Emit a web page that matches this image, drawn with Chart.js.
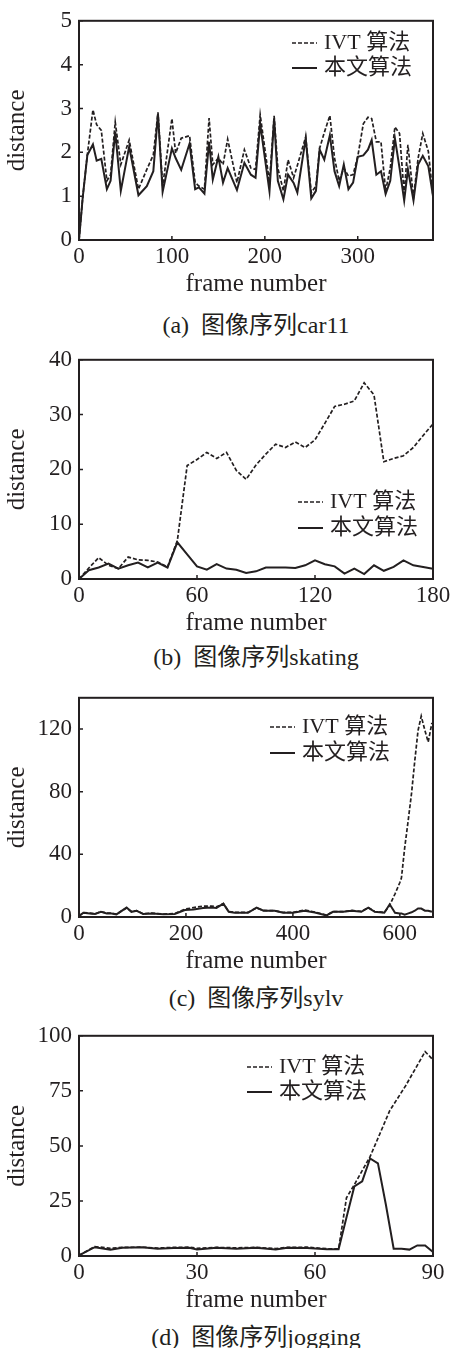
<!DOCTYPE html>
<html>
<head>
<meta charset="utf-8">
<script src="https://cdn.jsdelivr.net/npm/chart.js@4.4.0/dist/chart.umd.min.js"></script>
<style>
  body { margin: 0; background: #fff; width: 454px; height: 1348px; position: relative; overflow: hidden; }
  canvas { position: absolute; left: 0; }
  .cap { position: absolute; left: 0; width: 512px; text-align: center; color: #231f20;
         font: 24px "Liberation Serif", "Noto Sans CJK SC", serif; line-height: 28px; white-space: pre; }
</style>
</head>
<body>
<canvas id="ca" width="454" height="299" style="top:0px"></canvas>
<canvas id="cb" width="454" height="299" style="top:339px"></canvas>
<canvas id="cc" width="454" height="299" style="top:677px"></canvas>
<canvas id="cd" width="454" height="300" style="top:1015px"></canvas>
<div class="cap" style="top:311px">(a)&#8194;图像序列car11</div>
<div class="cap" style="top:643px">(b)&#8194;图像序列skating</div>
<div class="cap" style="top:984px">(c)&#8194;图像序列sylv</div>
<div class="cap" style="top:1323px">(d)&#8194;图像序列jogging</div>
<script>
// (a) car11
const aFrames = [0,4,9,15,19,24,30,34,39,45,54,64,73,80,85,90,100,104,110,119,125,129,135,140,144,150,155,160,170,178,
  185,190,195,205,210,214,220,225,231,235,244,250,255,259,264,270,275,280,285,290,295,300,306,311,315,320,325,330,335,340,
  345,350,354,360,365,370,376,381];
const aIvt = [0,0.97,1.95,2.97,2.63,2.5,1.35,1.49,2.69,1.72,2.28,1.16,1.61,1.94,2.91,1.23,2.77,1.98,2.32,2.38,
  1.31,1.23,1.16,2.78,1.72,1.87,1.72,2.3,1.31,2.06,1.64,1.61,2.86,1.31,2.83,1.64,1.12,1.83,1.42,1.7,
  2.35,1.08,1.23,2.09,2.45,2.84,1.87,1.35,1.64,1.46,1.49,1.9,2.65,2.8,2.77,2.24,2.24,1.12,1.64,2.58,
  2.43,1.05,2.17,0.97,1.87,2.43,2.02,1.0];
const aOurs = [0,0.97,1.94,2.18,1.81,1.85,1.16,1.35,2.47,1.12,2.13,1.02,1.23,1.57,2.88,1.1,2.09,1.87,1.6,2.2,
  1.16,1.2,1.06,2.24,1.38,1.9,1.31,1.64,1.14,1.76,1.49,1.42,2.65,1.11,2.77,1.35,0.93,1.49,1.3,1.08,
  2.32,0.95,1.12,2.06,1.83,2.39,1.57,1.23,1.72,1.16,1.31,1.9,1.93,2.06,2.28,1.49,1.57,1.05,1.35,2.32,
  1.64,0.9,1.61,0.9,1.72,1.92,1.68,1.0];

// (b) skating
const bFrames = [0,5,10,15,20,25,30,35,40,45,50,55,60,65,70,75,80,85,90,95,100,105,110,115,120,125,130,135,140,145,
  150,155,160,165,170,175,180];
const bIvt = [0,2.0,3.9,2.5,1.9,4.0,3.5,3.4,3.1,2.2,7.0,20.7,21.8,23.1,22.0,23.1,19.8,18.2,20.8,22.8,24.6,24.0,25.0,24.0,
  25.4,28.4,31.5,31.9,32.5,35.8,33.6,21.4,22.0,22.5,24.0,26.2,28.3];
const bOurs = [0,1.6,2.1,2.8,1.9,2.5,3.0,2.1,3.0,2.1,6.7,4.5,2.3,1.7,2.7,1.9,1.7,1.1,1.4,2.1,2.1,2.1,2.0,2.5,
  3.4,2.7,2.3,1.0,1.9,0.9,2.5,1.5,2.2,3.4,2.5,2.2,1.85];

// (c) sylv
const cFrames = [0,8,20,30,41,52,61,70,89,98,108,120,136,158,179,198,214,232,248,257,270,280,291,316,332,345,366,382,400,
  422,441,463,475,494,510,528,541,553,571,581,591,600,603,609,616,622,628,634,640,647,653,660];
const cIvt = [0.5,2.9,2.5,2.0,3.4,2.5,2.4,1.8,5.8,3.5,4.0,2.1,2.5,1.9,2.2,5.0,6.0,7.0,7.0,6.5,8.5,3.5,2.9,2.9,5.8,4.2,
  4.0,2.9,3.0,4.4,3.2,1.2,3.5,3.4,4.2,3.6,6.0,3.5,2.9,7.5,14.8,22,25,44,62.7,79.4,100,119,128.3,119,111.7,124];
const cOurs = [0.5,2.7,2.3,1.9,3.3,2.3,2.3,1.7,6.0,3.3,4.0,1.9,2.3,1.7,1.9,4.4,4.8,5.8,6.0,5.8,8.5,3.3,2.7,2.7,6.0,4.0,
  4.0,2.7,2.7,4.0,2.9,1.0,3.3,3.3,4.0,3.3,6.0,3.3,2.7,8.1,2.7,2.3,2.3,1.5,2.3,3.0,4.0,5.4,5.4,4.0,4.0,3.3];

// (d) jogging
const dIvtFrames = [0,4,8,11,16,20,24,28,30,35,40,45,50,53,58,63,66,68,70,74,79,83,88,90];
const dIvt = [0.3,4.3,3.5,3.9,4.0,3.6,3.9,4.0,3.5,3.9,3.7,3.9,3.4,3.9,4.0,3.3,3.2,26.4,32.4,45.1,66,77.2,92.8,89.1];
const dOursFrames = [0,4,8,11,16,20,24,28,30,35,40,45,50,53,58,63,66,68,70,72,74,76,78,80,82,84,86,88,90];
const dOurs = [0.3,4.0,2.8,3.7,4.0,3.3,3.6,3.7,3.0,3.7,3.3,3.7,3.0,3.7,3.6,3.1,3.1,17.5,31.6,33.9,44.3,42.1,23.5,3.3,
  3.3,2.9,4.8,4.8,1.8];

const seriesNames = ['IVT 算法', '本文算法'];
const ink = '#231f20';

Chart.defaults.font.family = '"Liberation Serif", "Noto Sans CJK SC", serif';
Chart.defaults.font.size = 23;
Chart.defaults.color = ink;

const pts = (xs, ys) => xs.map((x, i) => ({ x: x, y: ys[i] }));

// box, inward ticks and the legend
const framePlugin = {
    id: 'frame',
    afterDatasetsDraw(chart, args, o) {
        const { ctx, chartArea: a } = chart;
        const x = chart.scales.x, y = chart.scales.y;
        ctx.save();
        ctx.strokeStyle = ink;
        ctx.lineWidth = 1.5;
        ctx.beginPath();
        x.ticks.forEach(t => {
            const px = x.getPixelForValue(t.value);
            ctx.moveTo(px, a.bottom); ctx.lineTo(px, a.bottom - 4);
        });
        y.ticks.forEach(t => {
            const py = y.getPixelForValue(t.value);
            ctx.moveTo(a.left, py); ctx.lineTo(a.left + 4, py);
        });
        ctx.stroke();
        ctx.lineWidth = 2;
        ctx.strokeRect(a.left, a.top, a.right - a.left, a.bottom - a.top);

        ctx.font = '22px "Liberation Serif", "Noto Sans CJK SC", serif';
        ctx.fillStyle = ink;
        ctx.textBaseline = 'middle';
        chart.data.datasets.forEach((ds, i) => {
            const yy = o.y + i * o.gap;
            ctx.setLineDash(ds.borderDash || []);
            ctx.lineWidth = ds.borderWidth;
            ctx.beginPath(); ctx.moveTo(o.x, yy); ctx.lineTo(o.x + 25, yy); ctx.stroke();
            ctx.setLineDash([]);
            ctx.fillText(ds.label, o.x + 32, yy);
        });
        ctx.restore();
    }
};

function makeChart(id, ivt, ours, xMax, xStep, yMax, yStep, legend) {
    new Chart(document.getElementById(id), {
        type: 'line',
        data: {
            datasets: [
                { label: seriesNames[0], data: ivt, borderColor: ink, borderWidth: 1.7, borderDash: [4, 2],
                  pointRadius: 0, fill: false, order: 1 },
                { label: seriesNames[1], data: ours, borderColor: ink, borderWidth: 2,
                  pointRadius: 0, fill: false, order: 0 }
            ]
        },
        options: {
            responsive: false,
            animation: false,
            layout: { padding: { top: 17, right: 21, left: 0, bottom: 0 } },
            scales: {
                x: {
                    type: 'linear', min: 0, max: xMax,
                    afterFit: s => { s.height = 59; },
                    grid: { display: false, drawTicks: false },
                    border: { display: false },
                    ticks: { stepSize: xStep, includeBounds: false, padding: 3, maxRotation: 0, autoSkip: false },
                    title: { display: true, text: 'frame number', padding: 0, font: { size: 25 } }
                },
                y: {
                    min: 0, max: yMax,
                    afterFit: s => { s.width = 79; },
                    grid: { display: false, drawTicks: false },
                    border: { display: false },
                    ticks: { stepSize: yStep, includeBounds: false, padding: 7 },
                    title: { display: true, text: 'distance', padding: { top: 2, bottom: 0 }, font: { size: 25 } }
                }
            },
            plugins: {
                legend: { display: false },
                tooltip: { enabled: false },
                frame: legend
            }
        },
        plugins: [framePlugin]
    });
}

makeChart('ca', pts(aFrames, aIvt), pts(aFrames, aOurs), 381, 100, 5, 1, { x: 292, y: 43, gap: 25 });
makeChart('cb', pts(bFrames, bIvt), pts(bFrames, bOurs), 180, 60, 40, 10, { x: 298, y: 163, gap: 26 });
makeChart('cc', pts(cFrames, cIvt), pts(cFrames, cOurs), 662, 200, 140, 40, { x: 270, y: 50, gap: 26 });
makeChart('cd', pts(dIvtFrames, dIvt), pts(dOursFrames, dOurs), 90, 30, 100, 25, { x: 247, y: 52, gap: 25 });
</script>
</body>
</html>
